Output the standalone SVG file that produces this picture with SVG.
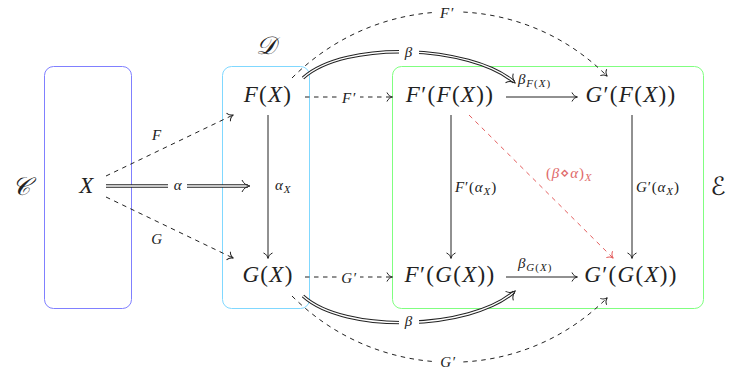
<svg xmlns="http://www.w3.org/2000/svg" width="729" height="371" viewBox="0 0 729 371">
<style>
.m{font-family:"Liberation Serif","DejaVu Serif",serif;font-size:23px;letter-spacing:1.3px;fill:#222}
.s{font-size:15px;letter-spacing:0.8px}
.ss{font-size:11px;letter-spacing:1px}
.i{font-style:italic}
.ctr{text-anchor:middle}
.cal{font-family:"DejaVu Sans","Liberation Sans",sans-serif;font-style:italic;font-size:25px;fill:#222}
.box{fill:none;stroke-width:1}
.ln{fill:none;stroke:#222;stroke-width:1}
.dash{stroke-dasharray:4.5 4.5}
.dblo{fill:none;stroke:#222;stroke-width:3.4}
.dbli{fill:none;stroke:#fff;stroke-width:1.4}
.red{fill:none;stroke:#e35d5d;stroke-width:1;stroke-dasharray:4.5 4.5}
.redt{fill:#e06a6a}
.bg{fill:#fff}
</style>
<defs>
<marker id="to" markerUnits="userSpaceOnUse" viewBox="-7 -6 10 12" markerWidth="10" markerHeight="12" refX="0" refY="0" orient="auto">
<path d="M-5,-4.5 C-4,-1.8 -1.6,-0.4 0.5,0 C-1.6,0.4 -4,1.8 -5,4.5" fill="none" stroke="#222" stroke-width="1" stroke-dasharray="none"/>
</marker>
<marker id="tored" markerUnits="userSpaceOnUse" viewBox="-7 -6 10 12" markerWidth="10" markerHeight="12" refX="0" refY="0" orient="auto">
<path d="M-5,-4.5 C-4,-1.8 -1.6,-0.4 0.5,0 C-1.6,0.4 -4,1.8 -5,4.5" fill="none" stroke="#e35d5d" stroke-width="1" stroke-dasharray="none"/>
</marker>
<marker id="dbl" markerUnits="userSpaceOnUse" viewBox="-9 -8 13 16" markerWidth="13" markerHeight="16" refX="0" refY="0" orient="auto">
<path d="M-6,-6 C-4.5,-2.5 -1.5,-0.5 2,0 C-1.5,0.5 -4.5,2.5 -6,6" fill="none" stroke="#222" stroke-width="1"/>
</marker>
</defs>
<rect width="729" height="371" fill="#fff"/>

<g id="cat-C">
<rect class="box" x="44.5" y="66.5" width="87" height="242" rx="9" stroke="#8080ff"/>
<text class="cal ctr" x="21" y="195">𝒞</text>
</g>
<g id="cat-D">
<rect class="box" x="222.5" y="66.5" width="87" height="242" rx="9" stroke="#80d8ff"/>
<text class="cal ctr" x="266" y="54">𝒟</text>
</g>
<g id="cat-E">
<rect class="box" x="392.5" y="66.5" width="311" height="242" rx="9" stroke="#80ff80"/>
<text class="cal ctr" x="718" y="195">ℰ</text>
</g>

<g id="connectors">
<path class="ln dash" d="M106,176 L233,115" marker-end="url(#to)"/>
<text class="m s i ctr" x="157" y="140">F</text>
<path class="ln dash" d="M106,197 L233,258" marker-end="url(#to)"/>
<text class="m s i ctr" x="157" y="244">G</text>
<path class="dblo" d="M106,186 H248"/>
<path class="dbli" d="M106,186 H248" marker-end="url(#dbl)"/>
<rect class="bg" x="168" y="178" width="19" height="16"/>
<text class="m s i ctr" x="178" y="190">α</text>
<path class="ln" d="M268,115 V258" marker-end="url(#to)"/>
<text class="m s" x="275" y="190"><tspan class="i">α</tspan><tspan class="ss i" dy="3">X</tspan></text>
<path class="ln dash" d="M305,97 H392" marker-end="url(#to)"/>
<rect class="bg" x="337" y="89" width="23" height="17"/>
<text class="m s i ctr" x="349" y="103">F′</text>
<path class="ln dash" d="M305,277 H392" marker-end="url(#to)"/>
<rect class="bg" x="337" y="269" width="23" height="17"/>
<text class="m s i ctr" x="349" y="283">G′</text>
<path class="ln" d="M506,97 H577" marker-end="url(#to)"/>
<text class="m s" x="518" y="84"><tspan class="i">β</tspan><tspan class="ss" dy="3"><tspan class="i">F</tspan>(<tspan class="i">X</tspan>)</tspan></text>
<path class="ln" d="M506,277 H577" marker-end="url(#to)"/>
<text class="m s" x="518" y="268"><tspan class="i">β</tspan><tspan class="ss" dy="3"><tspan class="i">G</tspan>(<tspan class="i">X</tspan>)</tspan></text>
<path class="ln" d="M451,115 V258" marker-end="url(#to)"/>
<text class="m s" x="455" y="192"><tspan class="i">F</tspan>′(<tspan class="i">α</tspan><tspan class="ss i" dy="3">X</tspan><tspan dy="-3">)</tspan></text>
<path class="ln" d="M632,115 V258" marker-end="url(#to)"/>
<text class="m s" x="636" y="192"><tspan class="i">G</tspan>′(<tspan class="i">α</tspan><tspan class="ss i" dy="3">X</tspan><tspan dy="-3">)</tspan></text>
<path class="red" d="M469,115 L613,258" marker-end="url(#tored)"/>
<text class="m s redt" x="546" y="178">(<tspan class="i">β</tspan>⋄<tspan class="i">α</tspan>)<tspan class="ss i" dy="3">X</tspan></text>
<path class="dblo" d="M303,78 C345,40 470,45 514,82"/>
<path class="dbli" d="M303,78 C345,40 470,45 514,82" marker-end="url(#dbl)"/>
<rect class="bg" x="399" y="43" width="20" height="18"/>
<text class="m s i ctr" x="409" y="57">β</text>
<path class="dblo" d="M303,296 C345,334 470,330 514,292"/>
<path class="dbli" d="M303,296 C345,334 470,330 514,292" marker-end="url(#dbl)"/>
<rect class="bg" x="399" y="312" width="20" height="18"/>
<text class="m s i ctr" x="409" y="326">β</text>
<path class="ln dash" d="M292,78 C379,-9 520,-11 607,76" marker-end="url(#to)"/>
<rect class="bg" x="434" y="4" width="26" height="18"/>
<text class="m s i ctr" x="447" y="18">F′</text>
<path class="ln dash" d="M292,296 C379,383 520,385 607,298" marker-end="url(#to)"/>
<rect class="bg" x="435" y="353" width="26" height="18"/>
<text class="m s i ctr" x="448" y="367">G′</text>
</g>

<g id="node-X"><text class="m i ctr" x="87" y="193">X</text></g>
<g id="node-FX"><text class="m ctr" x="268" y="102"><tspan class="i">F</tspan>(<tspan class="i">X</tspan>)</text></g>
<g id="node-GX"><text class="m ctr" x="268" y="282"><tspan class="i">G</tspan>(<tspan class="i">X</tspan>)</text></g>
<g id="node-FpFX"><text class="m ctr" x="450" y="102"><tspan class="i">F</tspan>′(<tspan class="i">F</tspan>(<tspan class="i">X</tspan>))</text></g>
<g id="node-GpFX"><text class="m ctr" x="631" y="102"><tspan class="i">G</tspan>′(<tspan class="i">F</tspan>(<tspan class="i">X</tspan>))</text></g>
<g id="node-FpGX"><text class="m ctr" x="450" y="282"><tspan class="i">F</tspan>′(<tspan class="i">G</tspan>(<tspan class="i">X</tspan>))</text></g>
<g id="node-GpGX"><text class="m ctr" x="631" y="282"><tspan class="i">G</tspan>′(<tspan class="i">G</tspan>(<tspan class="i">X</tspan>))</text></g>
</svg>
